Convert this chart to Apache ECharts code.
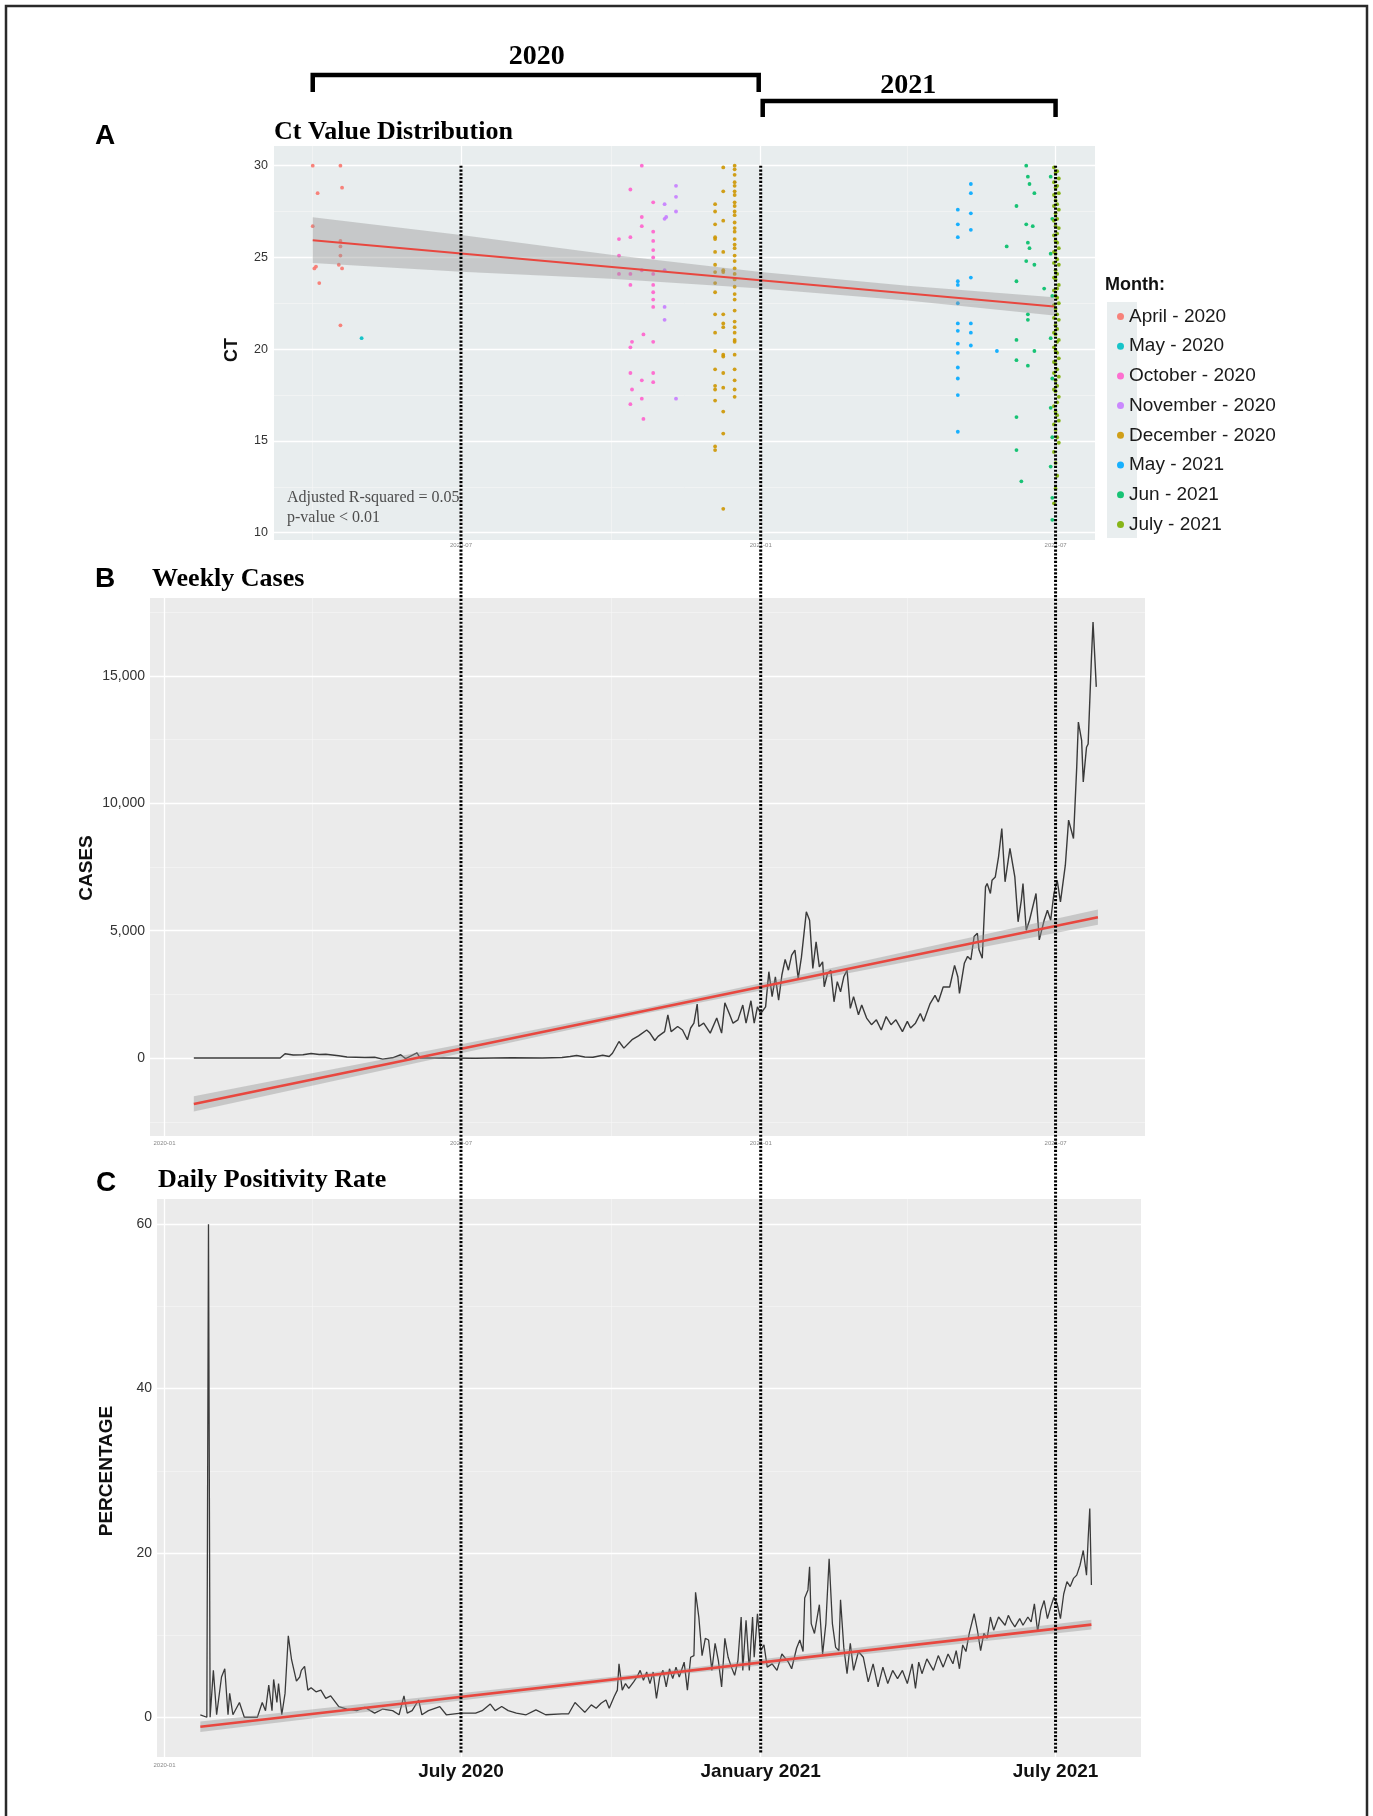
<!DOCTYPE html>
<html><head><meta charset="utf-8">
<script src="https://cdn.jsdelivr.net/npm/echarts@6/dist/echarts.min.js"></script>
<style>html,body{margin:0;padding:0;background:#fff}#c{width:1373px;height:1816px}</style>
</head><body><div id="c"></div>
<script>
// ---------------- DATA ----------------
const monthLabels = ['April - 2020','May - 2020','October - 2020','November - 2020','December - 2020','May - 2021','Jun - 2021','July - 2021'];
const monthColors = ['#F8766D','#00BFC4','#FF61CC','#C77CFF','#CD9600','#00A9FF','#00BE67','#7CAE00'];

const ctApr2020 = [['2020-04-01',30.0],['2020-04-04',28.5],['2020-04-01',26.7],['2020-04-03',24.5],['2020-04-02',24.4],['2020-04-05',23.6],
  ['2020-04-18',30.0],['2020-04-19',28.8],['2020-04-18',25.9],['2020-04-18',25.6],['2020-04-18',25.1],['2020-04-17',24.6],['2020-04-19',24.4],['2020-04-18',21.3]];
const ctMay2020 = [['2020-05-01',20.6]];
const ctOct2020 = [['2020-10-06',26.0],['2020-10-06',25.1],['2020-10-06',24.1],
  ['2020-10-13',28.7],['2020-10-13',26.1],['2020-10-13',24.1],['2020-10-13',23.5],['2020-10-13',20.1],['2020-10-14',20.4],['2020-10-13',18.7],['2020-10-14',17.8],['2020-10-13',17.0],
  ['2020-10-20',30.0],['2020-10-20',27.2],['2020-10-20',26.7],['2020-10-20',24.3],['2020-10-21',20.8],['2020-10-20',18.3],['2020-10-20',17.3],['2020-10-21',16.2],
  ['2020-10-27',28.0],['2020-10-27',26.4],['2020-10-27',25.9],['2020-10-27',25.4],['2020-10-27',25.0],['2020-10-27',24.1],['2020-10-27',23.5],['2020-10-27',23.1],['2020-10-27',22.7],['2020-10-27',22.3],['2020-10-27',20.4],['2020-10-27',18.7],['2020-10-27',18.2]];
const ctNov2020 = [['2020-11-03',27.9],['2020-11-03',27.1],['2020-11-04',27.2],['2020-11-03',24.3],['2020-11-03',22.3],['2020-11-03',21.6],
  ['2020-11-10',28.9],['2020-11-10',28.3],['2020-11-10',27.5],['2020-11-10',17.3]];
const ctDec2020 = [['2020-12-04',27.9],['2020-12-04',27.5],['2020-12-04',26.8],['2020-12-04',26.1],['2020-12-04',26.0],['2020-12-04',25.3],['2020-12-04',24.6],['2020-12-04',24.2],['2020-12-04',23.6],['2020-12-04',23.1],['2020-12-04',21.9],['2020-12-04',20.9],['2020-12-04',19.9],['2020-12-04',18.9],['2020-12-04',18.0],['2020-12-04',17.8],['2020-12-04',17.2],['2020-12-04',14.7],['2020-12-04',14.5],
  ['2020-12-09',29.9],['2020-12-09',28.6],['2020-12-09',27.0],['2020-12-09',25.3],['2020-12-09',24.3],['2020-12-09',24.2],['2020-12-09',21.9],['2020-12-09',21.4],['2020-12-09',21.2],['2020-12-09',19.7],['2020-12-09',19.6],['2020-12-09',18.7],['2020-12-09',17.9],['2020-12-09',16.6],['2020-12-09',15.4],['2020-12-09',11.3],
  ['2020-12-16',30.0],['2020-12-16',29.8],['2020-12-16',29.5],['2020-12-16',29.1],['2020-12-16',28.9],['2020-12-16',28.6],['2020-12-16',28.4],['2020-12-16',28.0],['2020-12-16',27.8],['2020-12-16',27.5],['2020-12-16',27.3],['2020-12-16',26.9],['2020-12-16',26.6],['2020-12-16',26.4],['2020-12-16',26.0],['2020-12-16',25.7],['2020-12-16',25.5],['2020-12-16',25.1],['2020-12-16',24.8],['2020-12-16',24.4],['2020-12-16',24.1],['2020-12-16',23.8],['2020-12-16',23.4],['2020-12-16',23.0],['2020-12-16',22.7],['2020-12-16',22.1],['2020-12-16',21.5],['2020-12-16',21.2],['2020-12-16',20.9],['2020-12-16',20.5],['2020-12-16',20.4],['2020-12-16',19.7],['2020-12-16',18.9],['2020-12-16',18.3],['2020-12-16',17.8],['2020-12-16',17.4]];
const ctMay2021 = [['2021-05-02',27.6],['2021-05-02',26.8],['2021-05-02',26.1],['2021-05-02',23.7],['2021-05-02',23.5],['2021-05-02',22.5],['2021-05-02',21.4],['2021-05-02',21.0],['2021-05-02',20.3],['2021-05-02',19.8],['2021-05-02',19.0],['2021-05-02',18.4],['2021-05-02',17.5],['2021-05-02',15.5],
  ['2021-05-10',29.0],['2021-05-10',28.5],['2021-05-10',27.4],['2021-05-10',26.5],['2021-05-10',23.9],['2021-05-10',21.4],['2021-05-10',20.9],['2021-05-10',20.2],['2021-05-26',19.9]];
const ctJun2021 = [['2021-06-01',25.6],['2021-06-07',27.8],['2021-06-07',23.7],['2021-06-07',20.5],['2021-06-07',19.4],['2021-06-07',16.3],['2021-06-07',14.5],['2021-06-10',12.8],
  ['2021-06-13',30.0],['2021-06-14',29.4],['2021-06-15',29.0],['2021-06-13',26.8],['2021-06-17',26.7],['2021-06-14',25.8],['2021-06-15',25.5],['2021-06-13',24.8],['2021-06-18',24.6],['2021-06-14',21.9],['2021-06-14',21.6],['2021-06-14',19.1],['2021-06-18',28.5],['2021-06-18',19.9],['2021-06-24',23.3],
  ['2021-06-28',29.4],['2021-06-29',27.1],['2021-06-28',25.2],['2021-06-29',22.9],['2021-06-28',20.6],['2021-06-29',18.4],['2021-06-28',16.8],['2021-06-29',15.2],['2021-06-28',13.6],['2021-06-29',11.9],['2021-06-29',10.7]];
const ctJul2021 = [['2021-06-30',29.9],['2021-07-02',29.7],['2021-07-01',29.6],['2021-07-03',29.3],['2021-06-30',29.1],['2021-07-02',28.9],['2021-07-01',28.8],['2021-07-03',28.5],['2021-06-30',28.4],['2021-07-01',28.1],['2021-07-02',27.9],['2021-06-30',27.8],['2021-07-03',27.6],['2021-07-01',27.4],['2021-07-02',27.1],['2021-06-30',27.0],['2021-07-01',26.7],['2021-07-03',26.6],['2021-07-02',26.3],['2021-06-30',26.2],['2021-07-01',25.9],['2021-07-02',25.8],['2021-07-03',25.5],['2021-06-30',25.3],['2021-07-01',25.2],['2021-07-02',24.9],['2021-06-30',24.7],['2021-07-03',24.6],['2021-07-01',24.3],['2021-07-02',24.1],['2021-06-30',23.9],['2021-07-01',23.8],['2021-07-03',23.5],['2021-07-02',23.3],['2021-06-30',23.2],['2021-07-01',22.9],['2021-07-02',22.8],['2021-07-03',22.5],['2021-06-30',22.4],['2021-07-01',22.2],['2021-07-02',21.9],['2021-06-30',21.7],['2021-07-03',21.6],['2021-07-01',21.3],['2021-07-02',21.1],['2021-06-30',20.9],['2021-07-01',20.8],['2021-07-03',20.5],['2021-07-02',20.4],['2021-06-30',20.1],['2021-07-01',19.9],['2021-07-02',19.8],['2021-07-03',19.5],['2021-06-30',19.3],['2021-07-01',19.2],['2021-07-02',18.9],['2021-06-30',18.7],['2021-07-03',18.5],['2021-07-01',18.3],['2021-07-02',18.0],['2021-06-30',17.8],['2021-07-01',17.7],['2021-07-03',17.4],['2021-07-02',17.1],['2021-06-30',16.9],['2021-07-01',16.6],['2021-07-02',16.4],['2021-07-03',16.1],['2021-06-30',15.9],['2021-07-01',15.6],['2021-07-02',15.2],['2021-07-03',14.9],['2021-06-30',14.4],['2021-07-01',13.8],['2021-07-02',13.1],['2021-07-01',12.4],['2021-06-30',11.6]];
const ctByMonth = [ctApr2020, ctMay2020, ctOct2020, ctNov2020, ctDec2020, ctMay2021, ctJun2021, ctJul2021];

const ctFit = [['2020-04-01',25.94],['2021-06-30',22.33]];
const ctBand = [['2020-04-01',24.69,27.19],['2020-07-01',24.22,26.22],['2020-10-01',23.84,25.14],['2021-01-01',23.31,24.21],['2021-04-01',22.65,23.45],['2021-06-30',21.83,22.83]];

const weeklyCases = [['2020-01-19',0],['2020-03-12',0],['2020-03-15',170],['2020-03-20',120],['2020-03-26',130],['2020-03-31',180],['2020-04-05',140],['2020-04-09',150],['2020-04-17',90],['2020-04-22',40],['2020-05-03',20],['2020-05-09',30],['2020-05-14',-40],['2020-05-20',10],['2020-05-25',130],['2020-05-28',-20],['2020-06-04',200],['2020-06-06',0],['2020-06-22',0],['2020-07-10',-10],['2020-08-01',10],['2020-08-20',0],['2020-09-01',20],['2020-09-06',60],['2020-09-10',100],['2020-09-15',40],['2020-09-20',30],['2020-09-26',110],['2020-09-30',60],['2020-10-02',190],['2020-10-06',650],['2020-10-09',390],['2020-10-14',720],['2020-10-18',870],['2020-10-23',1100],['2020-10-25',980],['2020-10-28',690],['2020-10-30',850],['2020-11-03',1040],['2020-11-05',1700],['2020-11-07',1040],['2020-11-11',1240],['2020-11-14',1100],['2020-11-17',720],['2020-11-19',1180],['2020-11-21',1370],['2020-11-23',2120],['2020-11-24',1240],['2020-11-27',1370],['2020-12-01',980],['2020-12-05',1570],['2020-12-08',980],['2020-12-10',2170],['2020-12-13',1700],['2020-12-15',1370],['2020-12-18',1500],['2020-12-21',2080],['2020-12-23',1370],['2020-12-26',2250],['2020-12-28',1370],['2020-12-30',2010],['2021-01-01',1750],['2021-01-04',2010],['2021-01-06',3390],['2021-01-08',2410],['2021-01-10',3190],['2021-01-12',2270],['2021-01-14',3260],['2021-01-16',3870],['2021-01-18',3450],['2021-01-20',4040],['2021-01-22',4240],['2021-01-24',3120],['2021-01-26',3960],['2021-01-29',5740],['2021-01-31',5410],['2021-02-02',3520],['2021-02-04',4560],['2021-02-06',3580],['2021-02-08',3780],['2021-02-09',2800],['2021-02-11',3320],['2021-02-13',3450],['2021-02-15',2210],['2021-02-17',3000],['2021-02-19',2600],['2021-02-21',3190],['2021-02-23',3450],['2021-02-25',1950],['2021-02-27',2410],['2021-03-02',1700],['2021-03-04',2080],['2021-03-07',1570],['2021-03-10',1310],['2021-03-13',1500],['2021-03-16',1100],['2021-03-19',1630],['2021-03-22',1310],['2021-03-25',1500],['2021-03-29',1040],['2021-04-01',1440],['2021-04-03',1180],['2021-04-06',1370],['2021-04-09',1750],['2021-04-11',1440],['2021-04-15',2140],['2021-04-18',2460],['2021-04-20',2200],['2021-04-23',2790],['2021-04-27',2790],['2021-04-30',3640],['2021-05-02',3190],['2021-05-03',2540],['2021-05-06',3720],['2021-05-08',3990],['2021-05-10',3860],['2021-05-12',4770],['2021-05-14',4900],['2021-05-15',4250],['2021-05-17',3920],['2021-05-19',6720],['2021-05-20',6850],['2021-05-22',6460],['2021-05-23',6980],['2021-05-25',7110],['2021-05-27',7900],['2021-05-29',9010],['2021-05-31',6920],['2021-06-03',8230],['2021-06-06',7110],['2021-06-08',5350],['2021-06-10',6200],['2021-06-11',6850],['2021-06-13',5020],['2021-06-15',5410],['2021-06-19',6460],['2021-06-21',4640],['2021-06-24',5410],['2021-06-26',5800],['2021-06-28',5410],['2021-06-30',6460],['2021-07-02',6980],['2021-07-04',6130],['2021-07-07',7570],['2021-07-09',9340],['2021-07-12',8620],['2021-07-14',11430],['2021-07-15',13190],['2021-07-17',12470],['2021-07-18',10840],['2021-07-20',12200],['2021-07-21',12330],['2021-07-23',15670],['2021-07-24',17120],['2021-07-26',14570]];
const casesFit = [['2020-01-19',-1800],['2021-07-27',5530]];
const casesBand = [['2020-01-19',-2100,-1500],['2020-07-01',185,545],['2020-10-22',1746,1966],['2021-02-15',3218,3558],['2021-07-27',5230,5830]];

const positivityDaily = [['2020-01-23',0.3],['2020-01-27',0.0],['2020-01-28',60.0],['2020-01-29',0.0],['2020-01-31',5.7],['2020-02-02',0.3],['2020-02-05',4.9],['2020-02-07',5.9],['2020-02-09',0.3],['2020-02-10',2.9],['2020-02-12',0.3],['2020-02-16',1.8],['2020-02-19',0.0],['2020-02-27',0.0],['2020-03-01',1.8],['2020-03-03',0.8],['2020-03-05',3.9],['2020-03-07',0.8],['2020-03-08',4.6],['2020-03-10',1.8],['2020-03-11',4.1],['2020-03-13',0.3],['2020-03-15',2.9],['2020-03-17',9.9],['2020-03-19',7.0],['2020-03-22',4.4],['2020-03-24',4.9],['2020-03-25',5.7],['2020-03-27',6.2],['2020-03-29',3.3],['2020-03-31',3.6],['2020-04-03',3.1],['2020-04-06',3.3],['2020-04-09',2.3],['2020-04-12',2.6],['2020-04-17',1.3],['2020-04-22',1.0],['2020-04-28',0.8],['2020-05-03',1.2],['2020-05-09',0.5],['2020-05-14',1.0],['2020-05-20',0.8],['2020-05-24',0.3],['2020-05-27',2.6],['2020-05-29',0.5],['2020-06-01',0.8],['2020-06-05',2.1],['2020-06-07',0.3],['2020-06-11',0.8],['2020-06-18',1.3],['2020-06-22',0.3],['2020-07-01',0.5],['2020-07-10',0.5],['2020-07-14',0.8],['2020-07-19',1.6],['2020-07-22',0.8],['2020-07-26',1.3],['2020-07-30',0.8],['2020-08-04',0.5],['2020-08-10',0.3],['2020-08-16',0.9],['2020-08-22',0.3],['2020-09-01',0.4],['2020-09-05',0.4],['2020-09-09',1.8],['2020-09-12',1.2],['2020-09-15',0.6],['2020-09-19',1.5],['2020-09-22',1.1],['2020-09-25',1.7],['2020-09-28',2.1],['2020-09-30',1.1],['2020-10-03',2.5],['2020-10-05',3.3],['2020-10-06',6.5],['2020-10-08',3.3],['2020-10-10',4.1],['2020-10-12',3.5],['2020-10-15',4.3],['2020-10-17',4.9],['2020-10-19',5.7],['2020-10-21',4.5],['2020-10-23',5.5],['2020-10-25',4.1],['2020-10-27',5.5],['2020-10-29',2.3],['2020-10-31',4.9],['2020-11-02',5.7],['2020-11-04',3.7],['2020-11-06',5.9],['2020-11-08',4.7],['2020-11-10',6.1],['2020-11-12',4.9],['2020-11-15',6.7],['2020-11-17',3.3],['2020-11-19',7.3],['2020-11-21',7.5],['2020-11-22',15.2],['2020-11-24',12.2],['2020-11-26',7.5],['2020-11-28',9.6],['2020-11-30',9.4],['2020-12-02',5.7],['2020-12-04',9.0],['2020-12-06',6.9],['2020-12-08',3.7],['2020-12-10',9.6],['2020-12-12',7.3],['2020-12-14',6.1],['2020-12-16',5.1],['2020-12-18',6.9],['2020-12-20',12.2],['2020-12-21',5.7],['2020-12-23',11.8],['2020-12-25',5.7],['2020-12-27',12.2],['2020-12-28',7.3],['2020-12-30',12.6],['2021-01-01',8.1],['2021-01-03',8.8],['2021-01-05',6.1],['2021-01-08',6.5],['2021-01-11',5.7],['2021-01-14',7.7],['2021-01-18',6.7],['2021-01-20',5.9],['2021-01-23',8.4],['2021-01-25',9.4],['2021-01-27',8.0],['2021-01-28',14.5],['2021-01-30',15.5],['2021-01-31',18.3],['2021-02-01',11.4],['2021-02-03',10.2],['2021-02-06',13.7],['2021-02-08',7.7],['2021-02-10',11.4],['2021-02-12',19.3],['2021-02-14',11.4],['2021-02-16',8.5],['2021-02-18',8.1],['2021-02-19',14.3],['2021-02-21',8.5],['2021-02-23',5.3],['2021-02-25',9.0],['2021-02-27',5.7],['2021-03-02',8.0],['2021-03-05',7.3],['2021-03-08',4.3],['2021-03-11',6.5],['2021-03-14',3.7],['2021-03-17',6.1],['2021-03-20',4.1],['2021-03-23',5.7],['2021-03-26',4.7],['2021-03-29',5.7],['2021-04-01',4.1],['2021-04-04',6.5],['2021-04-06',3.5],['2021-04-08',6.7],['2021-04-10',5.3],['2021-04-13',7.1],['2021-04-17',5.7],['2021-04-20',7.5],['2021-04-23',6.1],['2021-04-26',7.7],['2021-04-29',6.5],['2021-05-01',8.1],['2021-05-03',5.9],['2021-05-05',8.8],['2021-05-07',8.0],['2021-05-09',10.2],['2021-05-12',12.6],['2021-05-14',10.6],['2021-05-16',8.1],['2021-05-18',10.2],['2021-05-20',9.6],['2021-05-22',12.2],['2021-05-24',10.6],['2021-05-27',12.2],['2021-05-31',11.2],['2021-06-02',12.4],['2021-06-04',11.6],['2021-06-06',11.0],['2021-06-09',12.0],['2021-06-11',11.2],['2021-06-14',12.2],['2021-06-16',11.6],['2021-06-18',13.8],['2021-06-20',10.4],['2021-06-22',13.0],['2021-06-24',14.2],['2021-06-26',12.0],['2021-06-28',13.4],['2021-06-30',14.6],['2021-07-02',13.8],['2021-07-04',12.0],['2021-07-06',15.0],['2021-07-08',16.5],['2021-07-10',15.9],['2021-07-12',16.9],['2021-07-14',17.3],['2021-07-16',18.5],['2021-07-18',20.3],['2021-07-20',17.3],['2021-07-21',21.7],['2021-07-22',25.4],['2021-07-23',16.1]];
const positivityFit = [['2020-01-23',-1.16],['2021-07-23',11.27]];
const positivityBand = [['2020-01-23',-1.8,-0.52],['2020-10-23',4.77,5.37],['2021-07-23',10.67,11.87]];

// tick values / labels
const ctTicks = [10,15,20,25,30], ctMinor = [12.5,17.5,22.5,27.5];
const casesTicks = [0,5000,10000,15000], casesMinor = [-2500,2500,7500,12500,17500];
const posTicks = [0,20,40,60], posMinor = [10,30,50];
const xMajorAll = ['2020-01-01','2020-07-01','2021-01-01','2021-07-01'];
const xMajorA = ['2020-07-01','2021-01-01','2021-07-01'];
const xMinor = ['2020-04-01','2020-10-01','2021-04-01'];
const cBoldLabels = {'2020-07':'July 2020','2021-01':'January 2021','2021-07':'July 2021'};
const refDates = ['2020-07-01','2021-01-01','2021-07-01'];

// ---------------- HELPERS ----------------
function ts(s){ const p = s.split('-').map(Number); return new Date(p[0], p[1]-1, p[2]).getTime(); }
const asTime = arr => arr.map(d => [ts(d[0])].concat(d.slice(1)));
const X_JAN2020 = 164.5, PX_PER_DAY = 1.629;   // common time scale of the three stacked panels
function dateAt(px){ return ts('2020-01-01') + (px - X_JAN2020) / PX_PER_DAY * 864e5; }
function ym(v){ const d = new Date(v); return d.getFullYear() + '-' + String(d.getMonth()+1).padStart(2,'0'); }
const SANS = '"Liberation Sans", Arial, sans-serif';
const SERIF = '"Liberation Serif", "Times New Roman", serif';

function gridLines(xMaj, xMin, yMaj, yMin){
  const maj = {color:'#FFFFFF', width:1.3, type:'solid'};
  const mn = {color:'#F6F6F6', width:0.6, type:'solid'};
  const data = [];
  xMin.forEach(v => data.push({xAxis: ts(v), lineStyle: mn}));
  yMin.forEach(v => data.push({yAxis: v, lineStyle: mn}));
  xMaj.forEach(v => data.push({xAxis: ts(v), lineStyle: maj}));
  yMaj.forEach(v => data.push({yAxis: v, lineStyle: maj}));
  return {silent:true, symbol:['none','none'], label:{show:false}, z:1, animation:false, data};
}
// confidence band drawn as one polygon through the axis scales
function bandSeries(band, idx){
  const b = asTime(band);
  return {type:'custom', xAxisIndex:idx, yAxisIndex:idx, data: b, encode:{x:0, y:[1,2]}, silent:true, z:3, clip:true,
    renderItem: (params, api) => {
      if (params.dataIndex !== 0) return null;
      const upper = b.map(d => api.coord([d[0], d[2]]));
      const lower = b.map(d => api.coord([d[0], d[1]])).reverse();
      return {type:'polygon', shape:{points: upper.concat(lower)}, style:{fill:'rgba(150,150,150,0.42)'}};
    }};
}
function yAxisCfg(idx, min, max, ticks, fontSize, margin, fmt){
  return {type:'value', gridIndex:idx, min, max, splitLine:{show:false}, axisLine:{show:false}, axisTick:{show:false},
    axisLabel:{customValues: ticks, fontSize, color:'#333', fontFamily:SANS, margin, formatter: fmt || (v=>String(v))}};
}
function xAxisCfg(idx, pxLeft, pxRight, ticks, labelOpt){
  return {type:'value', gridIndex:idx, min: dateAt(pxLeft), max: dateAt(pxRight), splitLine:{show:false}, axisLine:{show:false}, axisTick:{show:false},
    axisLabel: Object.assign({customValues: ticks.map(ts), fontFamily:SANS}, labelOpt)};
}

// ---------------- CHART ----------------
const chart = echarts.init(document.getElementById('c'), null, {renderer:'canvas', width:1373, height:1816});

const grids = [
  {left:274, top:146, width:821, height:394, show:true, backgroundColor:'#E8EDEE', borderWidth:0},
  {left:150, top:598, width:995, height:538, show:true, backgroundColor:'#EBEBEB', borderWidth:0},
  {left:157, top:1199, width:984, height:558, show:true, backgroundColor:'#EBEBEB', borderWidth:0}
];

const xAxes = [
  xAxisCfg(0, 274, 1095, xMajorA, {formatter: v=>ym(v), fontSize:6, color:'#888', margin:2}),
  xAxisCfg(1, 150, 1145, xMajorAll, {formatter: v=>ym(v), fontSize:6, color:'#888', margin:4}),
  xAxisCfg(2, 157, 1141, xMajorAll, {margin:4,
     formatter: v => cBoldLabels[ym(v)] ? '{b|' + cBoldLabels[ym(v)] + '}' : '{s|' + ym(v) + '}',
     rich:{ s:{fontSize:6, lineHeight:8, color:'#888', fontFamily:SANS},
            b:{fontSize:19, lineHeight:22, fontWeight:'bold', color:'#111', fontFamily:SANS} }})
];

const yAxes = [
  yAxisCfg(0, 9.6, 31.07, ctTicks, 12.5, 6),
  yAxisCfg(1, -3059, 18059, casesTicks, 14, 5, v => v.toLocaleString('en-US')),
  yAxisCfg(2, -4.84, 63.08, posTicks, 14, 5)
];

const series = [];
monthLabels.forEach((name, i) => {
  series.push({type:'scatter', name, xAxisIndex:0, yAxisIndex:0, data: asTime(ctByMonth[i]), symbolSize:3.8,
    itemStyle:{color: monthColors[i], opacity:0.9}, silent:true, z:2});
});
series.push(bandSeries(ctBand, 0));
series.push({type:'line', xAxisIndex:0, yAxisIndex:0, data: asTime(ctFit), symbol:'none', silent:true, z:4,
  lineStyle:{color:'#E8473F', width:2}, markLine: gridLines(xMajorA, xMinor, ctTicks, ctMinor)});

series.push({type:'line', xAxisIndex:1, yAxisIndex:1, data: asTime(weeklyCases), symbol:'none', silent:true, z:2,
  lineStyle:{color:'#3a3a3a', width:1.4}});
series.push(bandSeries(casesBand, 1));
series.push({type:'line', xAxisIndex:1, yAxisIndex:1, data: asTime(casesFit), symbol:'none', silent:true, z:4,
  lineStyle:{color:'#E8473F', width:2.6}, markLine: gridLines(xMajorAll, xMinor, casesTicks, casesMinor)});

series.push({type:'line', xAxisIndex:2, yAxisIndex:2, data: asTime(positivityDaily), symbol:'none', silent:true, z:2,
  lineStyle:{color:'#3a3a3a', width:1.3}});
series.push(bandSeries(positivityBand, 2));
series.push({type:'line', xAxisIndex:2, yAxisIndex:2, data: asTime(positivityFit), symbol:'none', silent:true, z:4,
  lineStyle:{color:'#E8473F', width:2.6}, markLine: gridLines(xMajorAll, xMinor, posTicks, posMinor)});

chart.setOption({
  animation:false,
  backgroundColor:'#FFFFFF',
  grid: grids, xAxis: xAxes, yAxis: yAxes, series,
  legend:{orient:'vertical', left:1117, top:307, padding:0, itemWidth:7, itemHeight:7, itemGap:10.7, itemTextGap:21,
    icon:'circle', selectedMode:false, z:5, data: monthLabels,
    textStyle:{fontSize:19, lineHeight:19, color:'#1a1a1a', fontFamily:SANS}}
});

// ---------------- ANNOTATIONS (positions taken from the axes) ----------------
const xOf = d => chart.convertToPixel({gridIndex:0}, [ts(d), 20])[0];
const yTop = chart.convertToPixel({gridIndex:0}, [ts('2021-01-01'), 30])[1];
const yBot = chart.convertToPixel({gridIndex:2}, [ts('2021-01-01'), -4.3])[1];
const xApr = xOf('2020-04-01'), xJan = xOf('2021-01-01'), xJul = xOf('2021-07-01');

const txt = (text, x, y, font, opts) => Object.assign({type:'text', x, y, z:10, silent:true,
  style: Object.assign({text, font, fill:'#000', align:'left', verticalAlign:'middle'}, opts || {})});
const g = [];
g.push({type:'rect', shape:{x:6, y:6, width:1361, height:1840}, style:{fill:null, stroke:'#2a2a2a', lineWidth:2.5}, z:10, silent:true});
g.push({type:'polyline', shape:{points:[[xApr,92],[xApr,75],[xJan-2,75],[xJan-2,92]]}, style:{fill:null, stroke:'#000', lineWidth:4.5}, z:10, silent:true});
g.push({type:'polyline', shape:{points:[[xJan+2,117],[xJan+2,101],[xJul,101],[xJul,117]]}, style:{fill:null, stroke:'#000', lineWidth:4.5}, z:10, silent:true});
g.push(txt('2020', (xApr + xJan)/2, 57, 'bold 28px ' + SERIF, {align:'center'}));
g.push(txt('2021', (xJan + xJul)/2, 86, 'bold 28px ' + SERIF, {align:'center'}));
g.push(txt('A', 105, 136, 'bold 28px ' + SANS, {align:'center'}));
g.push(txt('B', 105, 579, 'bold 28px ' + SANS, {align:'center'}));
g.push(txt('C', 106, 1183, 'bold 28px ' + SANS, {align:'center'}));
g.push(txt('Ct Value Distribution', 274, 132, 'bold 26px ' + SERIF));
g.push(txt('Weekly Cases', 152, 579, 'bold 26px ' + SERIF));
g.push(txt('Daily Positivity Rate', 158, 1180, 'bold 26px ' + SERIF));
[['CT', 232, 350, 18], ['CASES', 87, 868, 19], ['PERCENTAGE', 107, 1471, 19]].forEach(a => {
  g.push({type:'text', x:a[1], y:a[2], rotation:Math.PI/2, z:10, silent:true,
    style:{text:a[0], font:'bold ' + a[3] + 'px ' + SANS, fill:'#111', align:'center', verticalAlign:'middle'}});
});
g.push(txt('Adjusted R-squared = 0.05', 287, 498, '16px ' + SERIF, {fill:'#4d4d4d'}));
g.push(txt('p-value < 0.01', 287, 518, '16px ' + SERIF, {fill:'#4d4d4d'}));
g.push(txt('Month:', 1105, 285, 'bold 18px ' + SANS, {fill:'#111'}));
g.push({type:'rect', shape:{x:1107, y:302, width:30, height:236}, style:{fill:'#E9EEEF'}, z:1, silent:true});
refDates.forEach(d => {
  const x = xOf(d);
  g.push({type:'line', shape:{x1:x, y1:yTop, x2:x, y2:yBot}, style:{stroke:'#000', lineWidth:3, lineDash:[2.2,1.6]}, z:100, silent:true});
});
chart.setOption({graphic: g});
</script>
</body></html>
